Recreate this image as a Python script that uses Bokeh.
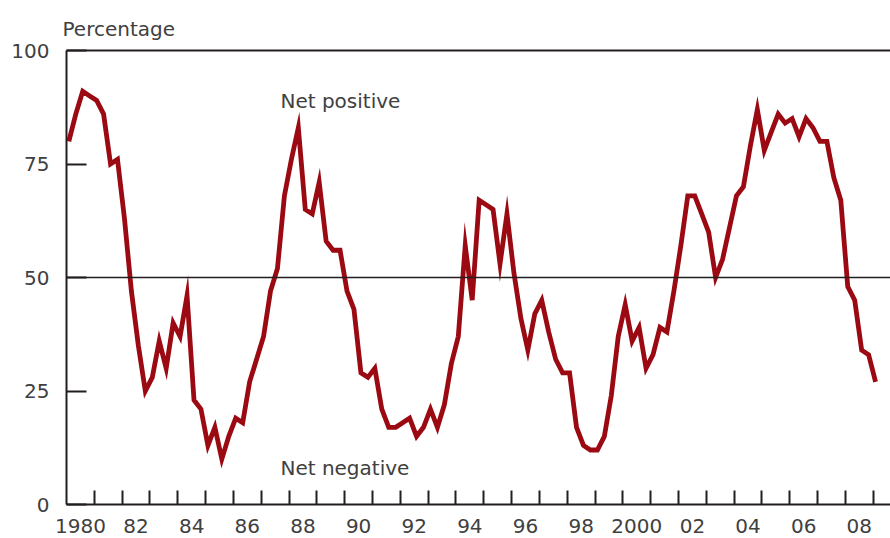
from bokeh.plotting import figure
from bokeh.models import FixedTicker, LinearAxis, Span, Label, Range1d
from bokeh.embed import file_html
from bokeh.resources import INLINE

# Quarterly data, 1980 Q1 .. 2009 Q1 (percentage)
start_year = 1980
values = [80, 86, 91, 90, 89, 86, 75, 76, 63, 47, 35, 25, 28, 36, 30, 40, 37, 46,
          23, 21, 13, 17, 10, 15, 19, 18, 27, 32, 37, 47, 52, 68, 76, 83, 65, 64,
          71, 58, 56, 56, 47, 43, 29, 28, 30, 21, 17, 17, 18, 19, 15, 17, 21, 17,
          22, 31, 37, 57, 45, 67, 66, 65, 53, 64, 51, 41, 34, 42, 45, 38, 32, 29,
          29, 17, 13, 12, 12, 15, 24, 37, 44, 36, 39, 30, 33, 39, 38, 47, 57, 68,
          68, 64, 60, 50, 54, 61, 68, 70, 79, 87, 78, 82, 86, 84, 85, 81, 85, 83,
          80, 80, 72, 67, 48, 45, 34, 33, 27]
dates = [start_year + i / 4 + 1 / 12 for i in range(len(values))]

y_ticks = [0, 25, 50, 75, 100]
year_ticks = list(range(1981, 2010))
label_years = list(range(1980, 2010, 2))
label_texts = ["1980", "82", "84", "86", "88", "90", "92", "94", "96", "98",
               "2000", "02", "04", "06", "08"]

FONT = "DejaVu Sans"
TXT = "#404040"
AX = "#231f20"

p = figure(width=890, height=538, output_backend="svg", toolbar_location=None,
           x_range=Range1d(1980, 2009.62), y_range=Range1d(0, 100),
           x_axis_type=None, y_axis_type=None,
           min_border_left=66, min_border_right=0, min_border_top=50,
           min_border_bottom=34)
p.grid.visible = False
p.outline_line_color = None
p.background_fill_color = "white"
p.border_fill_color = "white"

p.title.text = "Percentage"
p.title.align = "left"
p.title.offset = -4
p.title.text_font = FONT
p.title.text_font_size = "20px"
p.title.text_font_style = "normal"
p.title.text_color = TXT
p.title.standoff = 19

# bottom axis: minor ticks at each year (inward), labels centered in year
xa = LinearAxis(ticker=FixedTicker(ticks=[y + 0.5 for y in label_years],
                                   minor_ticks=year_ticks))
xa.major_label_overrides = {y + 0.5: t for y, t in zip(label_years, label_texts)}
xa.major_tick_in = 0
xa.major_tick_out = 0
xa.minor_tick_in = 14
xa.minor_tick_out = 0
xa.minor_tick_line_color = AX
xa.minor_tick_line_width = 2
xa.axis_line_color = AX
xa.axis_line_width = 2
xa.major_label_standoff = 14
xa.major_label_text_font = FONT
xa.major_label_text_font_size = "20px"
xa.major_label_text_color = TXT
p.add_layout(xa, "below")

ya = LinearAxis(ticker=FixedTicker(ticks=y_ticks, minor_ticks=[]))
ya.major_tick_in = 20
ya.major_tick_out = 0
ya.major_tick_line_color = AX
ya.major_tick_line_width = 2
ya.axis_line_color = AX
ya.axis_line_width = 2
ya.major_label_standoff = 17
ya.major_label_text_font = FONT
ya.major_label_text_font_size = "20px"
ya.major_label_text_color = TXT
p.add_layout(ya, "left")

# top border line
ta = LinearAxis(ticker=FixedTicker(ticks=[]))
ta.axis_line_color = AX
ta.axis_line_width = 2
ta.major_tick_line_color = None
ta.minor_tick_line_color = None
ta.major_tick_in = 0
ta.major_tick_out = 0
ta.major_label_standoff = 0
ta.major_label_text_font_size = "0px"
p.add_layout(ta, "above")

p.add_layout(Span(location=50, dimension="width", line_color=AX, line_width=1.6))

p.line(dates, values, line_color="#9b0a12", line_width=4.8, line_join="miter")

p.add_layout(Label(x=1987.69, y=88.8, text="Net positive", text_font=FONT,
                   text_font_size="20px", text_color=TXT, text_baseline="alphabetic"))
p.add_layout(Label(x=1987.69, y=8.1, text="Net negative", text_font=FONT,
                   text_font_size="20px", text_color=TXT, text_baseline="alphabetic"))

open("out.html", "w").write(file_html(p, INLINE))
